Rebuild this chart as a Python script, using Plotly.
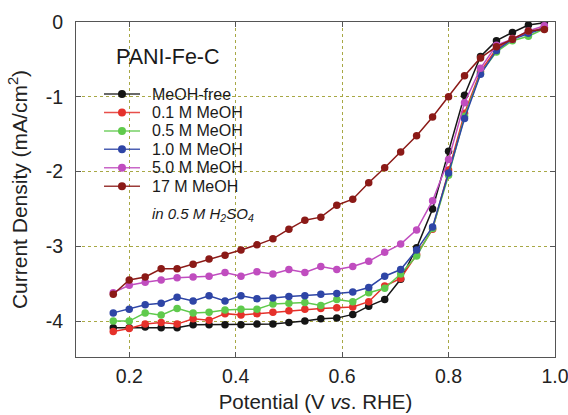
import plotly.graph_objects as go

# Potential (V vs. RHE) sampled every 30 mV
potential = [0.17, 0.20, 0.23, 0.26, 0.29, 0.32, 0.35, 0.38, 0.41, 0.44,
             0.47, 0.50, 0.53, 0.56, 0.59, 0.62, 0.65, 0.68, 0.71, 0.74,
             0.77, 0.80, 0.83, 0.86, 0.89, 0.92, 0.95, 0.98]

meoh_free = [-4.09, -4.09, -4.08, -4.09, -4.09, -4.05, -4.05, -4.05, -4.05, -4.04,
             -4.04, -4.02, -4.00, -3.97, -3.96, -3.91, -3.80, -3.71, -3.44, -3.02,
             -2.50, -1.73, -0.98, -0.46, -0.25, -0.14, -0.04, -0.01]
meoh_01 = [-4.14, -4.10, -4.04, -4.02, -4.04, -3.97, -3.99, -3.90, -3.92, -3.90,
           -3.88, -3.86, -3.84, -3.83, -3.82, -3.81, -3.74, -3.53, -3.43, -3.11,
           -2.77, -1.98, -1.22, -0.66, -0.36, -0.22, -0.14, -0.07]
meoh_05 = [-4.00, -4.00, -3.89, -3.92, -3.83, -3.89, -3.88, -3.85, -3.84, -3.84,
           -3.77, -3.76, -3.75, -3.79, -3.71, -3.74, -3.62, -3.56, -3.37, -3.13,
           -2.76, -2.05, -1.26, -0.69, -0.40, -0.25, -0.19, -0.09]
meoh_10 = [-3.89, -3.84, -3.78, -3.76, -3.68, -3.73, -3.66, -3.73, -3.66, -3.70,
           -3.69, -3.67, -3.66, -3.64, -3.63, -3.61, -3.55, -3.40, -3.31, -3.05,
           -2.74, -2.02, -1.29, -0.70, -0.38, -0.23, -0.15, -0.08]
meoh_50 = [-3.62, -3.52, -3.48, -3.45, -3.42, -3.41, -3.40, -3.35, -3.40, -3.34,
           -3.37, -3.31, -3.35, -3.27, -3.31, -3.27, -3.20, -3.08, -2.97, -2.78,
           -2.39, -1.84, -1.08, -0.62, -0.31, -0.23, -0.12, -0.05]
meoh_17 = [-3.64, -3.45, -3.41, -3.30, -3.30, -3.24, -3.17, -3.12, -3.05, -2.98,
           -2.90, -2.77, -2.65, -2.61, -2.45, -2.37, -2.15, -1.95, -1.74, -1.52,
           -1.27, -1.00, -0.72, -0.48, -0.33, -0.23, -0.12, -0.10]

series_names = ["MeOH-free", "0.1 M MeOH", "0.5 M MeOH", "1.0 M MeOH", "5.0 M MeOH", "17 M MeOH"]
series_values = [meoh_free, meoh_01, meoh_05, meoh_10, meoh_50, meoh_17]
series_colors = ["#151515", "#e5312b", "#5fca4c", "#2e45a6", "#c04dbf", "#8b1a17"]

x_ticks = [0.2, 0.4, 0.6, 0.8, 1.0]
x_ticktext = ["0.2", "0.4", "0.6", "0.8", "1.0"]
y_ticks = [0, -1, -2, -3, -4]
y_ticktext = ["0", "-1", "-2", "-3", "-4"]

FONT = "Liberation Sans, Arial, sans-serif"
GRID = "#a8a845"
TEXT = "#222222"

fig = go.Figure()
for name, vals, col in zip(series_names, series_values, series_colors):
    fig.add_trace(go.Scatter(
        x=potential, y=vals, name=name, mode="lines+markers",
        line=dict(color=col, width=1.5),
        marker=dict(color=col, size=7.5, line=dict(width=0)),
        showlegend=False,
    ))

axis_common = dict(
    showline=True, linecolor="#555555", linewidth=1, mirror="ticks",
    ticks="inside", ticklen=5, tickcolor="#555555",
    showgrid=True, gridcolor=GRID, griddash="dot", gridwidth=1,
    zeroline=False, automargin=False, ticklabeloverflow="allow",
    tickfont=dict(family=FONT, size=19.5, color=TEXT),
)

fig.update_xaxes(
    range=[0.1, 1.0], tickvals=x_ticks, ticktext=x_ticktext,
    title=dict(text="Potential (V <i>vs</i>. RHE)", font=dict(family=FONT, size=20.5, color=TEXT), standoff=8),
    ticklabelstandoff=2, **axis_common,
)
fig.update_yaxes(
    range=[-4.48, 0], tickvals=y_ticks, ticktext=y_ticktext,
    title=dict(text="Current Density (mA/cm<sup>2</sup>)", font=dict(family=FONT, size=21, color=TEXT), standoff=12),
    ticklabelstandoff=8, **axis_common,
)

# Hand-placed key in the upper-left corner of the plot area (paper coordinates)
key_top, key_step = 0.785, 0.055
key_x0, key_x1, key_mark, key_text = 0.0585, 0.1336, 0.096, 0.1545
for k, (name, col) in enumerate(zip(series_names, series_colors)):
    yk = key_top - k * key_step
    fig.add_shape(type="line", xref="paper", yref="paper",
                  x0=key_x0, x1=key_x1, y0=yk, y1=yk,
                  line=dict(color=col, width=1.5), opacity=0.85)
    fig.add_shape(type="circle", xref="paper", yref="paper",
                  xsizemode="pixel", ysizemode="pixel",
                  xanchor=key_mark, yanchor=yk, x0=-4, x1=4, y0=-4, y1=4,
                  fillcolor=col, line=dict(width=0))
    fig.add_annotation(text=name, xref="paper", yref="paper",
                       x=key_text, y=yk, xanchor="left", yanchor="middle",
                       showarrow=False, font=dict(family=FONT, size=16, color="#1a1a1a"))

fig.add_annotation(
    text="PANI-Fe-C", xref="paper", yref="paper", x=0.08, y=0.8955,
    xanchor="left", yanchor="middle", showarrow=False,
    font=dict(family=FONT, size=21.5, color="#1a1a1a"),
)
fig.add_annotation(
    text="<i>in 0.5 M H<sub>2</sub>SO<sub>4</sub></i>", xref="paper", yref="paper",
    x=0.1545, y=0.424, xanchor="left", yanchor="middle", showarrow=False,
    font=dict(family=FONT, size=15, color="#1a1a1a"),
)

fig.update_layout(
    width=568, height=415,
    margin=dict(l=76, r=13, t=22, b=58),
    paper_bgcolor="white", plot_bgcolor="white",
    font=dict(family=FONT, color=TEXT),
    showlegend=False,
)

fig.write_html("out.html")
